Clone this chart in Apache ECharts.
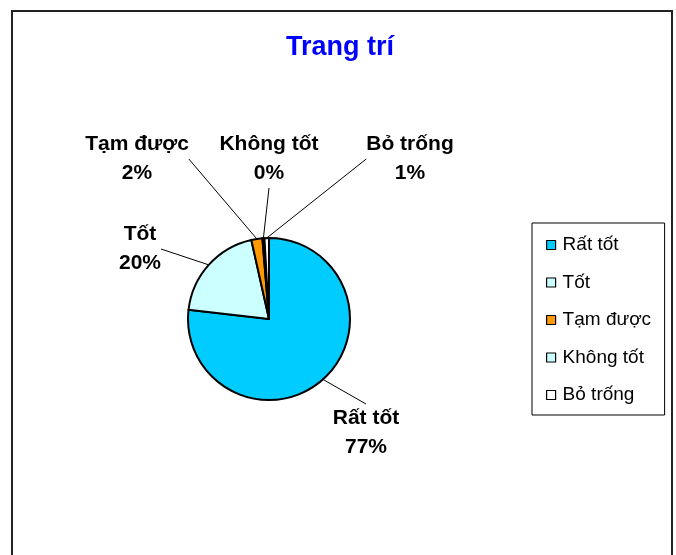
<!DOCTYPE html>
<html>
<head>
<meta charset="utf-8">
<script src="https://cdn.jsdelivr.net/npm/echarts@6/dist/echarts.min.js"></script>
<style>
html,body{margin:0;padding:0;background:#fff;}
#chart{width:676px;height:555px;}
</style>
</head>
<body>
<div id="chart"></div>
<script>
const titleText = 'Trang trí';
const categories = ['Rất tốt', 'Tốt', 'Tạm được', 'Không tốt', 'Bỏ trống'];
const values = [76.8, 19.7, 2.2, 0.4, 0.9];
const colors = ['#00CCFF', '#CCFFFF', '#FF9900', '#CCFFFF', '#FFFFFF'];

// label anchor points (centre of each two-line label)
const labelPos = [[366, 433], [140, 249], [137, 159], [269, 159], [410, 159]];

const FONT = '"Liberation Sans", Arial, sans-serif';
const chart = echarts.init(document.getElementById('chart'), null, {renderer: 'canvas'});

chart.setOption({
  animation: false,
  backgroundColor: '#ffffff',
  graphic: [{
    type: 'rect',
    shape: {x: 12, y: 11, width: 660, height: 600},
    style: {fill: 'none', stroke: '#222', lineWidth: 2},
    silent: true,
    z: -10
  }],
  title: {
    text: titleText,
    left: 286,
    top: 34,
    padding: 0,
    textStyle: {color: '#0000FF', fontSize: 27, fontWeight: 'bold', fontFamily: FONT}
  },
  legend: {
    orient: 'vertical',
    left: 532,
    top: 223,
    padding: [12, 7, 10, 14],
    borderColor: '#000',
    borderWidth: 1,
    itemWidth: 9,
    itemHeight: 9,
    itemGap: 17.5,
    icon: 'rect',
    itemStyle: {borderColor: '#000', borderWidth: 1.2},
    textStyle: {fontSize: 19, lineHeight: 20, color: '#000', fontFamily: FONT, width: 95, padding: [0, 0, 0, 2]},
    data: categories
  },
  series: [{
    type: 'pie',
    center: [269, 319],
    radius: 81,
    startAngle: 90,
    clockwise: true,
    percentPrecision: 0,
    avoidLabelOverlap: false,
    itemStyle: {borderColor: '#000', borderWidth: 2},
    emphasis: {disabled: true},
    label: {
      show: true,
      formatter: '{b}\n{d}%',
      color: '#000',
      fontSize: 21,
      fontWeight: 'bold',
      lineHeight: 29,
      align: 'center',
      fontFamily: FONT
    },
    labelLine: {show: true, lineStyle: {color: '#000', width: 1}, length: 10, length2: 0},
    labelLayout: function (params) {
      const p = labelPos[params.dataIndex];
      return {x: p[0], y: p[1], align: 'center', verticalAlign: 'middle'};
    },
    data: categories.map((c, i) => ({name: c, value: values[i], itemStyle: {color: colors[i]}}))
  }]
});
</script>
</body>
</html>
